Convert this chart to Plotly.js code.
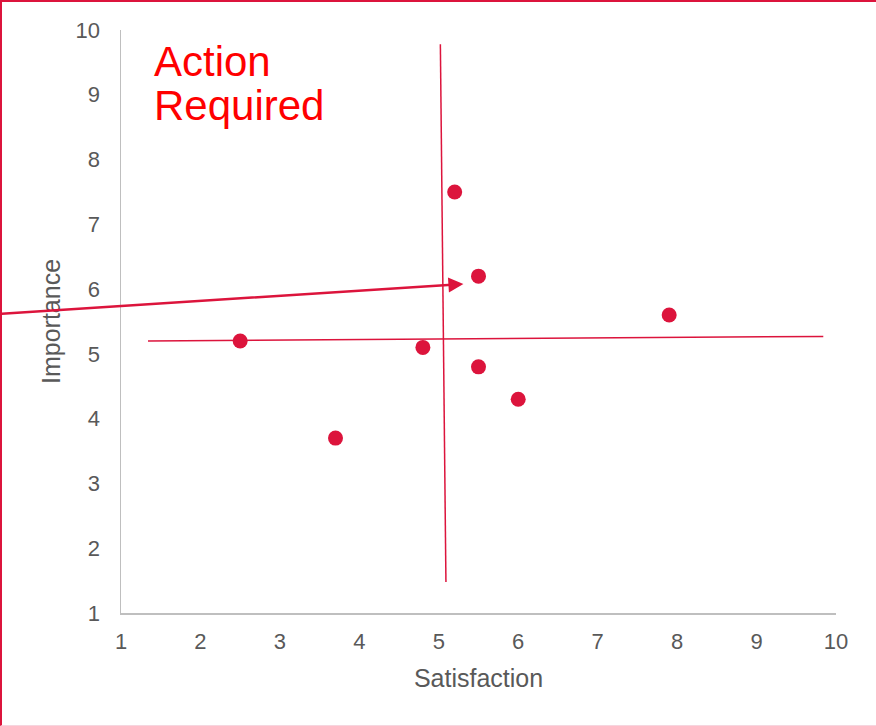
<!DOCTYPE html>
<html>
<head>
<meta charset="utf-8">
<script src="https://cdn.plot.ly/plotly-3.0.1.min.js"></script>
<style>
  html, body { margin: 0; padding: 0; background: #fff; }
  #wrap { position: relative; width: 876px; height: 726px; }
  #chart { position: absolute; left: 0; top: 0; width: 876px; height: 726px; }
  #frame { position: absolute; left: 0; top: 0; width: 876px; height: 726px; box-sizing: border-box;
           border-left: 2px solid #dc143c; border-top: 2px solid #dc143c; border-bottom: 1px solid #f6d5df;
           pointer-events: none; }
</style>
</head>
<body>
<div id="wrap"><div id="chart"></div><div id="frame"></div></div>
<script>
// Data points (Satisfaction, Importance)
const satisfaction = [2.5, 3.7, 4.8, 5.2, 5.5, 5.5, 6.0, 7.9];
const importance   = [5.2, 3.7, 5.1, 7.5, 6.2, 4.8, 4.3, 5.6];

// Quadrant divider lines (data coordinates)
const vLineX = [5.02, 5.09];
const vLineY = [9.78, 1.48];
const hLineX = [1.34, 9.84];
const hLineY = [5.20, 5.27];

// Arrow tip (data coordinates)
const arrowTip = {x: 5.31, y: 6.08};

const tickVals = [1, 2, 3, 4, 5, 6, 7, 8, 9, 10];
const tickText = ['1', '2', '3', '4', '5', '6', '7', '8', '9', '10'];

const red = '#dc143c';
const gray = '#595959';
const font = 'Liberation Sans, Arial, sans-serif';

const traces = [
  {x: vLineX, y: vLineY, mode: 'lines', line: {color: red, width: 1.5}, hoverinfo: 'skip', cliponaxis: false},
  {x: hLineX, y: hLineY, mode: 'lines', line: {color: red, width: 1.5}, hoverinfo: 'skip', cliponaxis: false},
  {x: satisfaction, y: importance, mode: 'markers', marker: {color: red, size: 15}, cliponaxis: false}
];

const layout = {
  width: 876, height: 726,
  margin: {l: 121, r: 40, t: 30, b: 113},
  paper_bgcolor: 'rgba(0,0,0,0)', plot_bgcolor: 'rgba(0,0,0,0)',
  showlegend: false,
  font: {family: font, color: gray},
  xaxis: {
    range: [1, 10], tickvals: tickVals, ticktext: tickText,
    showgrid: false, zeroline: false, showline: true, linecolor: '#bfbfbf', linewidth: 1.5,
    ticks: 'outside', ticklen: 8, tickcolor: 'rgba(0,0,0,0)',
    tickfont: {size: 22, color: gray, family: font},
    title: {text: 'Satisfaction', font: {size: 25, color: gray, family: font}, standoff: 16}
  },
  yaxis: {
    range: [1, 10], tickvals: tickVals, ticktext: tickText,
    showgrid: false, zeroline: false, showline: true, linecolor: '#bfbfbf', linewidth: 1.5,
    ticks: 'outside', ticklen: 15, tickcolor: 'rgba(0,0,0,0)',
    tickfont: {size: 22, color: gray, family: font},
    title: {text: 'Importance', font: {size: 25, color: gray, family: font}, standoff: 8}
  },
  annotations: [
    {text: 'Action', xref: 'paper', yref: 'paper', x: (152 - 121) / 715, y: (613 - 61) / 583,
     xanchor: 'left', yanchor: 'middle', showarrow: false, font: {size: 42, color: '#ff0000', family: font}},
    {text: 'Required', xref: 'paper', yref: 'paper', x: (152 - 121) / 715, y: (613 - 105) / 583,
     xanchor: 'left', yanchor: 'middle', showarrow: false, font: {size: 42, color: '#ff0000', family: font}},
    {text: '', x: arrowTip.x, y: arrowTip.y, xref: 'x', yref: 'y', showarrow: true,
     axref: 'pixel', ayref: 'pixel', ax: -463, ay: 30,
     arrowhead: 2, arrowsize: 1.2, arrowwidth: 2.5, arrowcolor: red}
  ]
};

Plotly.newPlot('chart', traces, layout, {displayModeBar: false, staticPlot: true});
</script>
</body>
</html>
